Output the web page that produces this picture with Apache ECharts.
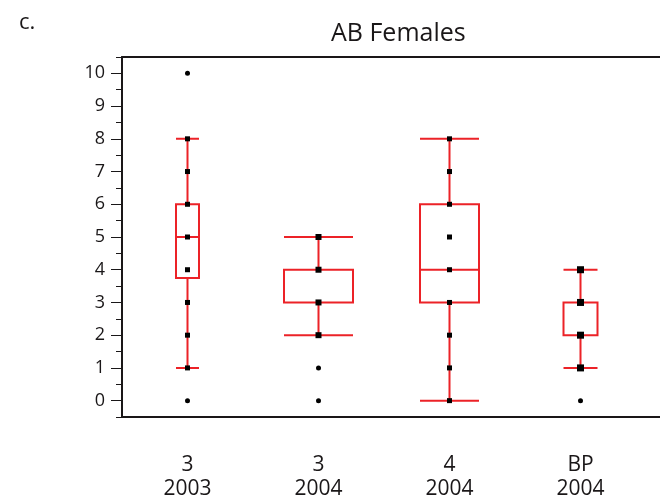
<!DOCTYPE html>
<html>
<head>
<meta charset="utf-8">
<script src="https://cdn.jsdelivr.net/npm/echarts@6/dist/echarts.min.js"></script>
<style>html,body{margin:0;padding:0;background:#fff}#c{width:660px;height:496px}</style>
</head>
<body>
<div id="c"></div>
<script>
const categories = ['3\n2003', '3\n2004', '4\n2004', 'BP\n2004'];
// [min(whisker), Q1, median, Q3, max(whisker)]
const boxStats = [
  [1, 3.75, 5, 6, 8],
  [2, 3, 3, 4, 5],
  [0, 3, 4, 6, 8],
  [1, 2, 2, 3, 4]
];
const points = [
  [0, 1, 2, 3, 4, 5, 6, 7, 8, 10],
  [0, 1, 2, 3, 4, 5],
  [0, 1, 2, 3, 4, 5, 6, 7, 8],
  [0, 1, 2, 3, 4]
];
const yTicks = [0, 1, 2, 3, 4, 5, 6, 7, 8, 9, 10];

// styles
const boxWidths = [23, 69, 59, 34];
const squareSizes = [5, 6, 5, 7];
const RED = '#ec2227';
const INK = '#1a1718';
const FONT = 'Open Sans';

const inRange = [], outliers = [];
points.forEach((arr, i) => {
  arr.forEach(v => {
    if (v >= boxStats[i][0] && v <= boxStats[i][4]) inRange.push([i, v]);
    else outliers.push([i, v]);
  });
});

const xAxes = [{
  type: 'category', data: categories, gridIndex: 0, position: 'bottom',
  axisLine: {show: false}, axisTick: {show: false},
  axisLabel: {margin: 36, fontSize: 21, lineHeight: 24, color: INK, fontFamily: FONT}
}];
boxStats.forEach(() => xAxes.push({
  type: 'category', data: categories, gridIndex: 0, position: 'bottom', show: false
}));
xAxes.push({type: 'value', gridIndex: 1, position: 'bottom', min: 0, max: 1,
  axisLine: {show: true, lineStyle: {color: INK, width: 2}}, axisTick: {show: false}, axisLabel: {show: false}, splitLine: {show: false}});
xAxes.push({type: 'value', gridIndex: 1, position: 'top', min: 0, max: 1,
  axisLine: {show: true, lineStyle: {color: INK, width: 2}}, axisTick: {show: false}, axisLabel: {show: false}, splitLine: {show: false}});

const series = boxStats.map((b, i) => ({
  type: 'boxplot',
  xAxisIndex: i + 1, yAxisIndex: 0,
  boxWidth: [boxWidths[i], boxWidths[i]],
  data: boxStats.map((bb, j) => j === i ? bb : ['-', '-', '-', '-', '-']),
  itemStyle: {color: 'rgba(0,0,0,0)', borderColor: RED, borderWidth: 2},
  emphasis: {disabled: true},
  z: 2
}));
series.push({
  type: 'scatter', xAxisIndex: 0, yAxisIndex: 0, data: inRange,
  symbol: 'rect', symbolSize: (val) => squareSizes[val[0]],
  itemStyle: {color: '#000', opacity: 1}, emphasis: {disabled: true}, z: 5
});
series.push({
  type: 'scatter', xAxisIndex: 0, yAxisIndex: 0, data: outliers,
  symbol: 'circle', symbolSize: 5,
  itemStyle: {color: '#000', opacity: 1}, emphasis: {disabled: true}, z: 5
});

const chart = echarts.init(document.getElementById('c'), null, {renderer: 'canvas'});
chart.setOption({
  animation: false,
  backgroundColor: '#fff',
  title: [
    {text: 'AB Females', left: 326, top: 16, textStyle: {fontSize: 25, fontWeight: 'normal', color: INK, fontFamily: FONT}},
    {text: 'c.', left: 14, top: 7, textStyle: {fontSize: 22, fontWeight: 'normal', color: INK, fontFamily: FONT}}
  ],
  grid: [
    {left: 122, right: 14, top: 57, bottom: 79, outerBoundsMode: 'none', containLabel: false},
    {left: 122, right: 0, top: 57, bottom: 79, outerBoundsMode: 'none', containLabel: false}
  ],
  xAxis: xAxes,
  yAxis: [
    {type: 'value', gridIndex: 0, position: 'left', min: -0.5, max: 10.5, interval: 0.5,
      axisLine: {show: true, lineStyle: {color: INK, width: 2}},
      axisTick: {show: true, length: 6, lineStyle: {color: INK, width: 1}},
      axisLabel: {show: false}, splitLine: {show: false}},
    {type: 'value', gridIndex: 0, position: 'left', min: -0.5, max: 10.5,
      axisLine: {show: false},
      axisTick: {show: true, length: 11, customValues: yTicks, lineStyle: {color: INK, width: 1}},
      axisLabel: {show: true, customValues: yTicks, margin: 17, fontSize: 18, color: INK, fontFamily: FONT},
      splitLine: {show: false}},
    {type: 'value', gridIndex: 1, min: 0, max: 1, show: false}
  ],
  series: series
});
</script>
</body>
</html>
